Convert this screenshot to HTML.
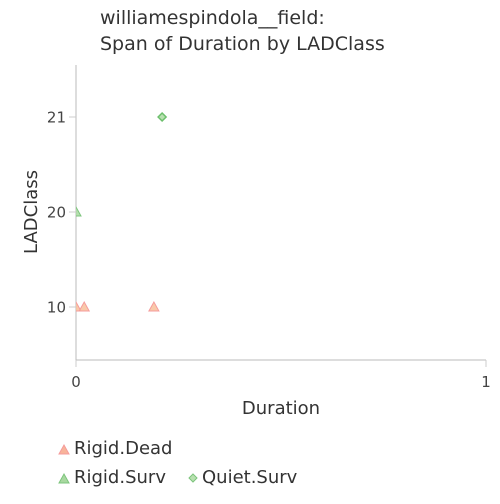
<!DOCTYPE html>
<html><head><meta charset="utf-8"><style>
body{margin:0;background:#fff;font-family:"DejaVu Sans","Liberation Sans",sans-serif}
</style></head><body>
<svg width="500" height="500" font-family="DejaVu Sans, Liberation Sans, sans-serif">
<defs><clipPath id="plotclip"><rect x="76" y="60" width="415" height="300"/></clipPath></defs>
<text x="100" y="24" font-size="19" fill="#333">williamespindola__field:</text>
<text x="100" y="50" font-size="19" fill="#333">Span of Duration by LADClass</text>
<g id="axes"></g>
<g id="marks" clip-path="url(#plotclip)"></g>
<text x="281" y="414" font-size="18" fill="#333" text-anchor="middle">Duration</text>
<text transform="translate(37,212) rotate(-90)" font-size="18" fill="#333" text-anchor="middle">LADClass</text>
<g>
<path d="M59,454 L64,445 L69,454 Z" fill="#f8b49a" stroke="#f59b9b"/>
<text x="74" y="454" font-size="18" fill="#333">Rigid.Dead</text>
<path d="M59,483 L64,474 L69,483 Z" fill="#a8d8a0" stroke="#7cc47c"/>
<text x="74" y="483" font-size="18" fill="#333">Rigid.Surv</text>
<path d="M193,474 L197,478 L193,482 L189,478 Z" fill="#b8e0b0" stroke="#7cc47c"/>
<text x="202" y="483" font-size="18" fill="#333">Quiet.Surv</text>
</g>
</svg>
<script>
const categories=["10","20","21"];
const seriesNames=["Rigid.Dead","Rigid.Surv","Quiet.Surv"];
const rigidDeadX=[0,0.02,0.19];
const rigidDeadY=["10","10","10"];
const rigidSurvX=[0];
const rigidSurvY=["20"];
const quietSurvX=[0.21];
const quietSurvY=["21"];
const xTicks=[0,1];
const NS="http://www.w3.org/2000/svg";
const X0=76,X1=486,Ytop=65,Ybot=360;
const yPos={"10":307,"20":212,"21":117};
function xs(v){return X0+(X1-X0)*v;}
function ys(c){return yPos[c];}
const axes=document.getElementById('axes'),marks=document.getElementById('marks');
function mk(tag,attrs,parent){const e=document.createElementNS(NS,tag);for(const k in attrs)e.setAttribute(k,attrs[k]);parent.appendChild(e);return e;}
let l=mk('line',{x1:X0,y1:Ytop,x2:X0,y2:Ybot,stroke:'#bbb'},axes);


l=mk('line',{x1:X0,y1:Ybot,x2:X1,y2:Ybot,stroke:'#bbb'},axes);


categories.forEach(c=>{
 const t=mk('line',{x1:X0-7,y1:ys(c),x2:X0,y2:ys(c),stroke:'#ccc'},axes);
 
 
 const tx=mk('text',{x:X0-10,y:ys(c)+5.5,'font-size':15,fill:'#444','text-anchor':'end'},axes);tx.textContent=c;
 
 
});
xTicks.forEach(v=>{
 const t=mk('line',{x1:xs(v),y1:Ybot,x2:xs(v),y2:Ybot+7,stroke:'#ccc'},axes);
 
 
 const tx=mk('text',{x:xs(v),y:Ybot+27,'font-size':15,fill:'#444','text-anchor':'middle'},axes);tx.textContent=v;
 
 
});
function tri(x,y,fill,stroke){return mk('path',{d:`M${x-5},${y+4} L${x},${y-5} L${x+5},${y+4} Z`,fill:fill,stroke:stroke,'fill-opacity':0.85},marks);}
rigidDeadX.forEach((v,i)=>{const p=tri(xs(v),ys(rigidDeadY[i]),'#f8c09a','#f59b9b');
 
 });
rigidSurvX.forEach((v,i)=>{const p=tri(xs(v),ys(rigidSurvY[i]),'#a8d8a0','#7cc47c');
 
 });
quietSurvX.forEach((v,i)=>{const x=xs(v),y=ys(quietSurvY[i]);
 const p=mk('path',{d:`M${x},${y-4} L${x+4},${y} L${x},${y+4} L${x-4},${y} Z`,fill:'#b8e0b0',stroke:'#6cbf6c','stroke-width':1.5},marks);
 
 });
</script>
</body></html>
